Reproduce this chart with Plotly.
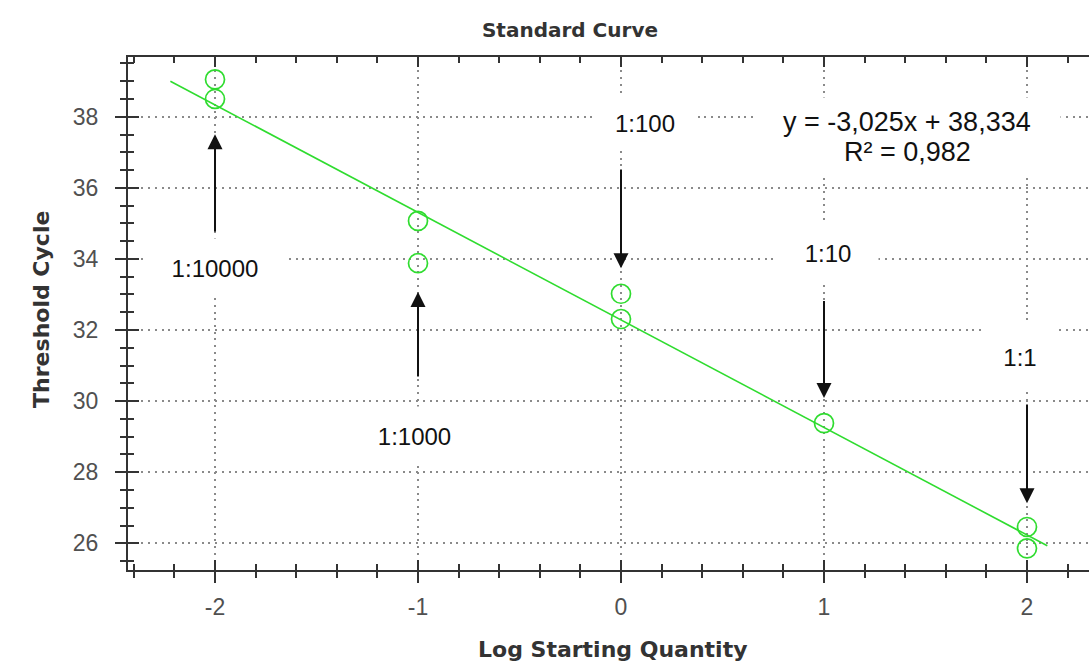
import plotly.graph_objects as go

# qPCR standard curve: threshold cycle against log starting quantity
log_qty = [-2, -2, -1, -1, 0, 0, 1, 2, 2]
ct_values = [39.05, 38.50, 35.07, 33.88, 33.02, 32.31, 29.38, 26.46, 25.86]

# regression reported in the equation label (x counted from the 1:10000 point)
fit_slope = -3.025
fit_intercept = 38.334
fit_r2 = 0.982
fit_x_offset = 2
fit_x_span = [-2.22, 2.10]

dilution_labels = ["1:10000", "1:1000", "1:100", "1:10", "1:1"]
dilution_x = [-2, -1, 0, 1, 2]

x_ticks = [-2, -1, 0, 1, 2]
y_ticks = [26, 28, 30, 32, 34, 36, 38]

# annotation placement (data units)
label_pos = [(-2.0, 33.74), (-1.015, 29.02), (0.12, 37.82), (1.02, 34.16), (1.966, 31.24)]
label_box = [(140, 58), (105, 58), (100, 52), (100, 60), (76, 68)]
arrow_tail = [34.73, 30.65, 36.56, 32.86, 29.95]
arrow_head = [37.51, 33.07, 33.74, 30.09, 27.13]
eq_box = (1.409, 37.43)
eq_line_y = [37.85, 37.0]

fit_y = [fit_slope * (x + fit_x_offset) + fit_intercept for x in fit_x_span]


def comma(v):
    return f"{v:.3f}".replace(".", ",")


GREEN = "#2fdc2f"
AXIS = "#333333"
GRID = "#8a8a8a"
TICKFONT = dict(family="Liberation Sans, Arial, sans-serif", size=23, color="#505050")
LABELFONT = dict(family="Liberation Sans, Arial, sans-serif", size=24, color="#111111")
EQFONT = dict(family="Liberation Sans, Arial, sans-serif", size=27, color="#111111")
TITLEFONT = dict(family="DejaVu Sans, Verdana, sans-serif", size=20, color="#333333")
AXTITLEFONT = dict(family="DejaVu Sans, Verdana, sans-serif", size=22, color="#333333")

fig = go.Figure()

fig.add_trace(go.Scatter(
    x=fit_x_span, y=fit_y, mode="lines",
    line=dict(color=GREEN, width=1.6), hoverinfo="skip", showlegend=False,
))
fig.add_trace(go.Scatter(
    x=log_qty, y=ct_values, mode="markers",
    marker=dict(symbol="circle-open", size=19, color=GREEN, line=dict(width=1.7, color=GREEN)),
    showlegend=False,
))
# empty trace so the inner-tick overlay axes are drawn
fig.add_trace(go.Scatter(x=[], y=[], xaxis="x2", yaxis="y2", showlegend=False))

x_range = [-2.4286, 2.3054]
y_range = [25.25, 39.68]

fig.update_layout(
    width=1089, height=663,
    margin=dict(l=128, r=0, t=57, b=93),
    paper_bgcolor="white", plot_bgcolor="white",
    title=dict(text="<b>Standard Curve</b>", x=570 / 1089, xref="container", xanchor="center",
               y=1 - 30 / 663, yref="container", yanchor="middle", font=TITLEFONT),
    xaxis=dict(
        range=x_range, tickvals=x_ticks, ticktext=[str(v) for v in x_ticks],
        ticks="outside", ticklen=11, tickwidth=2, tickcolor=AXIS,
        showline=True, linewidth=2, linecolor=AXIS, mirror=False,
        showgrid=True, gridcolor=GRID, gridwidth=1.5, griddash="2px,4.7px",
        zeroline=False, tickfont=TICKFONT, ticklabelstandoff=4,
        minor=dict(dtick=0.2, tick0=0, ticks="outside", ticklen=6, tickwidth=1.5,
                   tickcolor=AXIS, showgrid=False),
    ),
    xaxis2=dict(
        range=x_range, overlaying="x", anchor="y2", side="bottom",
        tickvals=x_ticks, ticks="inside", ticklen=10, tickwidth=2, tickcolor=AXIS,
        showline=True, linewidth=2, linecolor=AXIS, mirror="ticks",
        showgrid=False, zeroline=False, showticklabels=False,
        minor=dict(dtick=0.2, tick0=0, ticks="inside", ticklen=6, tickwidth=1.5,
                   tickcolor=AXIS, showgrid=False),
    ),
    yaxis=dict(
        range=y_range, tickvals=y_ticks, ticktext=[str(v) for v in y_ticks],
        ticks="outside", ticklen=11, tickwidth=2, tickcolor=AXIS,
        showline=True, linewidth=2, linecolor=AXIS, mirror=False,
        showgrid=True, gridcolor=GRID, gridwidth=1.5, griddash="2px,4.7px",
        zeroline=False, tickfont=TICKFONT, ticklabelstandoff=12,
        minor=dict(dtick=0.5, tick0=0, ticks="outside", ticklen=6, tickwidth=1.5,
                   tickcolor=AXIS, showgrid=False),
    ),
    yaxis2=dict(
        range=y_range, overlaying="y", anchor="x2", side="left",
        tickvals=y_ticks, ticks="inside", ticklen=11, tickwidth=2, tickcolor=AXIS,
        showline=False, showgrid=False, zeroline=False, showticklabels=False,
        minor=dict(dtick=0.5, tick0=0, ticks="inside", ticklen=6, tickwidth=1.5,
                   tickcolor=AXIS, showgrid=False),
    ),
)

annotations = []

# axis titles
annotations.append(dict(
    text="<b>Log Starting Quantity</b>", xref="paper", yref="paper",
    x=(613 - 128) / 961, y=-(649 - 570) / 513, xanchor="center", yanchor="middle",
    showarrow=False, font=AXTITLEFONT,
))
annotations.append(dict(
    text="<b>Threshold Cycle</b>", xref="paper", yref="paper",
    x=(42 - 128) / 961, y=0.507, xanchor="center", yanchor="middle", textangle=-90,
    showarrow=False, font=AXTITLEFONT,
))

# regression equation: white box over the grid, then the two lines of text
annotations.append(dict(
    text=" ", xref="x", yref="y", x=eq_box[0], y=eq_box[1],
    xanchor="center", yanchor="middle", showarrow=False,
    width=305, height=78, bgcolor="white", borderpad=0,
))
eq_lines = [
    f"y = {comma(fit_slope)}x + {comma(fit_intercept)}",
    f"R² = {comma(fit_r2)}",
]
for line, ly in zip(eq_lines, eq_line_y):
    annotations.append(dict(
        text=line, xref="x", yref="y", x=eq_box[0], y=ly,
        xanchor="center", yanchor="middle", showarrow=False, font=EQFONT,
    ))

# dilution labels with white boxes over the grid
for text, (lx, ly), (bw, bh) in zip(dilution_labels, label_pos, label_box):
    annotations.append(dict(
        text=text, xref="x", yref="y", x=lx, y=ly,
        xanchor="center", yanchor="middle", showarrow=False,
        width=bw, height=bh, bgcolor="white", borderpad=0, font=LABELFONT,
    ))

# arrows pointing at each dilution's replicates
for dx, tail, head in zip(dilution_x, arrow_tail, arrow_head):
    annotations.append(dict(
        text="", xref="x", yref="y", x=dx, y=head,
        axref="x", ayref="y", ax=dx, ay=tail,
        showarrow=True, arrowhead=2, arrowsize=1.5, arrowwidth=2,
        arrowcolor="#111111", standoff=0,
    ))

fig.update_layout(annotations=annotations)

fig.write_html("out.html")
